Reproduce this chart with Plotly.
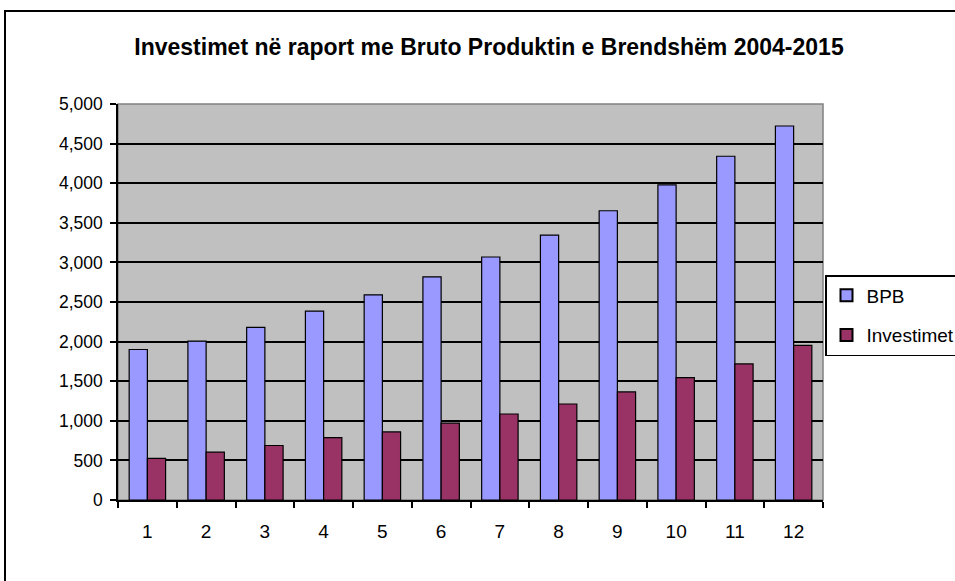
import plotly.graph_objects as go

# Period index (2004-2015 shown as 1..12)
periods = ["1", "2", "3", "4", "5", "6", "7", "8", "9", "10", "11", "12"]
bpb = [1900, 2005, 2180, 2385, 2590, 2818, 3068, 3345, 3652, 3980, 4340, 4722]
investimet = [525, 605, 688, 787, 860, 970, 1086, 1212, 1365, 1545, 1718, 1953]
y_ticks = [0, 500, 1000, 1500, 2000, 2500, 3000, 3500, 4000, 4500, 5000]

FONT = "Liberation Sans, Arial, sans-serif"

fig = go.Figure()
fig.add_trace(go.Bar(
    x=periods, y=bpb, name="BPB", legendgroup="bpb",
    marker=dict(color="#9999FF", line=dict(color="black", width=1.2)),
))
fig.add_trace(go.Bar(
    x=periods, y=investimet, name="Investimet", legendgroup="inv",
    marker=dict(color="#993366", line=dict(color="black", width=1.2)),
))

L, R, T, B = 118, 823, 104, 500
W, H = 955, 581
pw, ph = R - L, B - T

def px_x(v):
    return (v - L) / pw

def px_y(v):
    return (B - v) / ph

# plot-area border (grey on top/right)
fig.add_shape(type="rect", xref="paper", yref="paper", x0=0, x1=1, y0=0, y1=1,
              line=dict(color="#808080", width=1.5), layer="below")
# outer chart frame
fig.add_shape(type="rect", xref="paper", yref="paper",
              x0=px_x(5), x1=px_x(990), y0=px_y(600), y1=px_y(11),
              line=dict(color="black", width=2))

fig.update_layout(
    width=W, height=H,
    margin=dict(l=L, r=W - R, t=T, b=H - B, pad=0, autoexpand=False),
    paper_bgcolor="white",
    plot_bgcolor="#C0C0C0",
    barmode="group",
    bargap=0.38,
    bargroupgap=0,
    font=dict(family=FONT, size=17, color="black"),
    title=dict(
        text="<b>Investimet në raport me Bruto Produktin e Brendshëm 2004-2015</b>",
        x=px_x(489), xanchor="center", xref="paper",
        y=1 - 47 / H, yanchor="middle",
        font=dict(family=FONT, size=23, color="black"),
    ),
    legend=dict(
        x=px_x(825), xanchor="left", y=px_y(275), yanchor="top",
        bgcolor="white", bordercolor="black", borderwidth=1.5,
        font=dict(family=FONT, size=19, color="black"),
        itemsizing="constant", tracegroupgap=12,
    ),
    xaxis=dict(
        type="category", tickson="boundaries",
        ticks="outside", ticklen=6, tickcolor="black", tickwidth=1.5,
        showline=True, linecolor="black", linewidth=1.5,
        showgrid=False, ticklabelstandoff=13,
        tickfont=dict(family=FONT, size=19),
    ),
    yaxis=dict(
        range=[0, 5000], tickvals=y_ticks,
        tickformat=",d",
        ticks="outside", ticklen=6, tickcolor="black", tickwidth=1.5,
        showline=True, linecolor="black", linewidth=1.5,
        showgrid=True, gridcolor="black", gridwidth=1.5,
        zeroline=False, ticklabelstandoff=4,
        tickfont=dict(family=FONT, size=17.5),
    ),
)

fig.write_html("out.html")
